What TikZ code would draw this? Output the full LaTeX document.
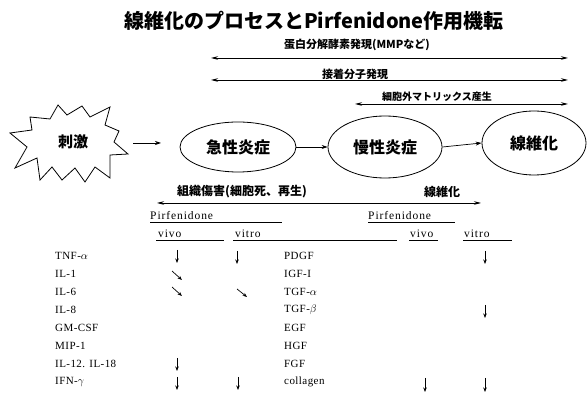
\documentclass[tikz,border=0pt]{standalone}
\usepackage{fontspec}
\setmainfont{Liberation Serif}
\newfontfamily\jp{Noto Sans CJK JP}
\usetikzlibrary{shapes.geometric,arrows.meta}
\tikzset{
  arr/.style={-{Stealth[length=6pt,width=4pt]}, line width=0.7pt},
  darr/.style={{Stealth[length=7pt,width=3.5pt]}-{Stealth[length=7pt,width=3.5pt]}, line width=0.8pt},
  tarr/.style={-{Stealth[length=4.5pt,width=3.5pt]}, line width=0.7pt},
  jplab/.style={font=\jp\bfseries\fontsize{11}{11}\selectfont, inner sep=0pt},
  ell/.style={ellipse, draw, line width=0.8pt, inner sep=0pt, font=\jp\bfseries\fontsize{16}{16}\selectfont},
  tab/.style={font=\fontsize{11}{12}\selectfont\addfontfeatures{LetterSpace=4}, anchor=west, inner sep=0pt},
  hd/.style={font=\fontsize{11.5}{12}\selectfont\addfontfeatures{LetterSpace=8}, anchor=base west, inner sep=0pt}
}
\begin{document}
\begin{tikzpicture}[x=1pt,y=-1pt]
\useasboundingbox (0,0) rectangle (587,398);
% title
\node[inner sep=0pt, font=\jp\bfseries\fontsize{20}{20}\selectfont] (title) at (314,21) {線維化のプロセスとPirfenidone作用機転};
% top arrows
\node[jplab] (t1) at (357,45) {蛋白分解酵素発現(MMPなど)};
\coordinate (l1a) at (211,58); \coordinate (l1b) at (568,58);
\draw[darr] (l1a) -- (l1b);
\node[jplab] (t2) at (355,74) {接着分子発現};
\coordinate (l2a) at (211,80); \coordinate (l2b) at (568,80);
\draw[darr] (l2a) -- (l2b);
\node[jplab, font=\jp\bfseries\fontsize{10}{10}\selectfont] (t3) at (437,97) {細胞外マトリックス産生};
\coordinate (l3a) at (355,104); \coordinate (l3b) at (568,104);
\draw[darr] (l3a) -- (l3b);
% starburst
\draw[line width=0.8pt, line join=miter] (10,133) -- (32,130) -- (30,117) -- (50,119) -- (58,105) -- (67,115) -- (82,106) -- (90,117) -- (110,107) -- (105,125) -- (119,131) -- (114,142) -- (128,154) -- (110,155) -- (110,178) -- (95,167) -- (85,182) -- (75,168) -- (62,180) -- (52,167) -- (40,180) -- (37,158) -- (15,168) -- (27,147) -- cycle;
\node[inner sep=0pt, font=\jp\bfseries\fontsize{15}{15}\selectfont] (stim) at (73,142) {刺激};
% ellipses
\node[ell, minimum width=116pt, minimum height=50pt] (aci) at (238,147) {急性炎症};
\node[ell, minimum width=114pt, minimum height=62pt] (chr) at (385,147) {慢性炎症};
\node[ell, minimum width=104pt, minimum height=64pt] (fib) at (534,143) {線維化};
\coordinate (s1) at (133,143); \coordinate (s2) at (161,143);
\draw[arr] (s1) -- (s2);
\draw[arr] (aci.east) -- (chr.west);
\draw[arr] (chr.east) -- (fib.west);
% lower label arrow
\node[jplab, font=\jp\bfseries\fontsize{12}{12}\selectfont, anchor=west] (inj) at (177,192) {組織傷害(細胞死、再生)};
\node[jplab, font=\jp\bfseries\fontsize{12}{12}\selectfont, anchor=west] (fz) at (424,192) {線維化};
\coordinate (la) at (157,203); \coordinate (lb) at (481,203);
\draw[darr, line width=0.7pt] (la) -- (lb);
% headers
\node[hd] (pl) at (150,220) {Pirfenidone};
\draw[line width=0.6pt] (150,222) -- (282,222);
\node[hd] (pr) at (368,220) {Pirfenidone};
\draw[line width=0.6pt] (368,222) -- (455,222);
\node[hd] (vv1) at (158,238) {vivo};
\draw[line width=0.6pt] (156,240) -- (224,240);
\node[hd] (vt1) at (235,238) {vitro};
\draw[line width=0.6pt] (233,240) -- (397,240);
\node[hd] (vv2) at (410,238) {vivo};
\draw[line width=0.6pt] (409,240) -- (438,240);
\node[hd] (vt2) at (464,238) {vitro};
\draw[line width=0.6pt] (463,240) -- (512,240);
% left table
\node[tab] (r1) at (55,256) {TNF-$\alpha$};
\node[tab] (r2) at (55,274) {IL-1};
\node[tab] (r3) at (55,292) {IL-6};
\node[tab] (r4) at (55,310) {IL-8};
\node[tab] (r5) at (55,328) {GM-CSF};
\node[tab] (r6) at (55,346) {MIP-1};
\node[tab] (r7) at (55,364) {IL-12. IL-18};
\node[tab] (r8) at (55,382) {IFN-$\gamma$};
% right table
\node[tab] (q1) at (284,256) {PDGF};
\node[tab] (q2) at (284,274) {IGF-I};
\node[tab] (q3) at (284,292) {TGF-$\alpha$};
\node[tab] (q4) at (284,310) {TGF-$\beta$};
\node[tab] (q5) at (284,328) {EGF};
\node[tab] (q6) at (284,346) {HGF};
\node[tab] (q7) at (284,364) {FGF};
\node[tab] (q8) at (284,382) {collagen};
% table arrows
\draw[tarr] (177,250) -- (177,263);
\draw[tarr] (237,251) -- (237,264);
\draw[tarr] (172,271) -- (182,280);
\draw[tarr] (172,287) -- (182,296);
\draw[tarr] (237,289) -- (247,297);
\draw[tarr] (177,358) -- (177,371);
\draw[tarr] (177,377) -- (177,390);
\draw[tarr] (238,377) -- (238,390);
\draw[tarr] (485,251) -- (485,264);
\draw[tarr] (485,305) -- (485,318);
\draw[tarr] (425,378) -- (425,392);
\draw[tarr] (485,378) -- (485,392);
\end{tikzpicture}
\end{document}
